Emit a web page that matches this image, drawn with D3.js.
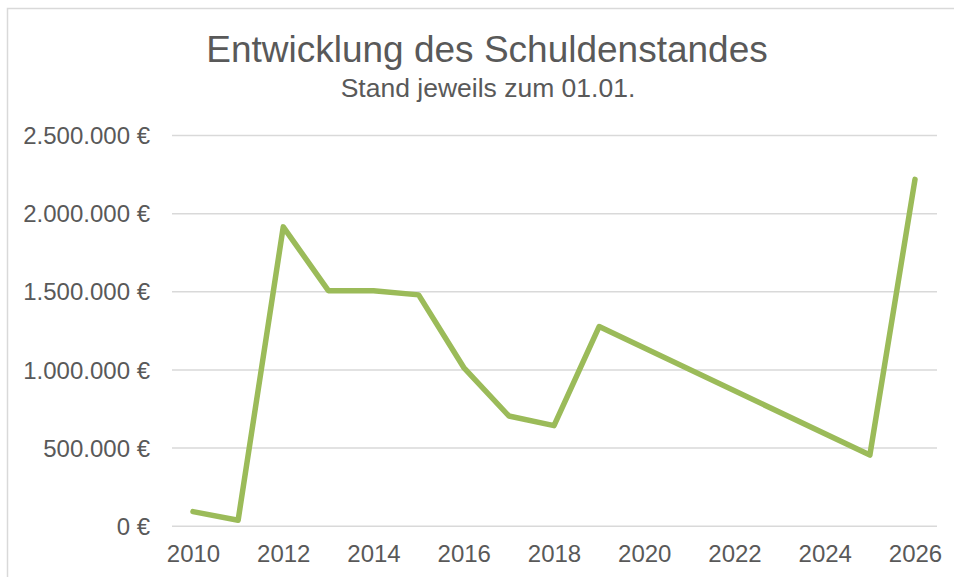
<!DOCTYPE html>
<html><head><meta charset="utf-8">
<script src="https://cdn.jsdelivr.net/npm/d3@7"></script>
<style>body{margin:0;background:#fff;}svg{display:block;font-family:"Liberation Sans",Arial,sans-serif;}</style>
</head><body>
<svg id="c" width="954" height="577"></svg>
<script>
const years = [2010,2011,2012,2013,2014,2015,2016,2017,2018,2019,2025,2026];
const debt  = [90000,35000,1912000,1504000,1504000,1477000,1012000,702000,640000,1274000,452000,2216000];
const yTicks = [0,500000,1000000,1500000,2000000,2500000];
const xTicks = [2010,2012,2014,2016,2018,2020,2022,2024,2026];
const title = "Entwicklung des Schuldenstandes";
const subtitle = "Stand jeweils zum 01.01.";

const svg = d3.select("#c");
const txt = "#595959";
svg.append("rect").attr("x",7.5).attr("y",8.5).attr("width",960).attr("height",600)
  .attr("fill","#fff").attr("stroke","#d9d9d9").attr("stroke-width",1.5);

const x = d3.scaleLinear().domain([2010,2026]).range([193,915]);
const y = d3.scaleLinear().domain([0,2500000]).range([525.7,135]);
const gridX0 = 172, gridX1 = 937;

const fmt = v => d3.format(",")(v).replace(/,/g,".") + " €";

const yAxis = d3.axisLeft(y).tickValues(yTicks).tickSize(-(gridX1-gridX0)).tickPadding(22).tickFormat(fmt);
const gy = svg.append("g").attr("transform",`translate(${gridX0},0)`).call(yAxis);
gy.select(".domain").remove();
gy.selectAll(".tick line").attr("stroke","#d9d9d9").attr("stroke-width",1.5);
gy.selectAll(".tick text").attr("fill",txt).attr("font-size",24).attr("dy","0.36em");

const xAxis = d3.axisBottom(x).tickValues(xTicks).tickSize(0).tickPadding(19).tickFormat(d3.format("d"));
const gx = svg.append("g").attr("transform",`translate(0,${y(0)})`).call(xAxis);
gx.select(".domain").remove();
gx.selectAll(".tick text").attr("fill",txt).attr("font-size",24);

const pts = years.map((yr,i)=>[yr,debt[i]]);
svg.append("path").datum(pts)
  .attr("fill","none").attr("stroke","#9bbb59").attr("stroke-width",5.5)
  .attr("stroke-linejoin","round").attr("stroke-linecap","round")
  .attr("d", d3.line().x(d=>x(d[0])).y(d=>y(d[1])));

svg.append("text").attr("x",487).attr("y",62).attr("text-anchor","middle")
  .attr("fill",txt).attr("font-size",37).text(title);
svg.append("text").attr("x",488).attr("y",97).attr("text-anchor","middle")
  .attr("fill",txt).attr("font-size",26.5).text(subtitle);
</script>
</body></html>
